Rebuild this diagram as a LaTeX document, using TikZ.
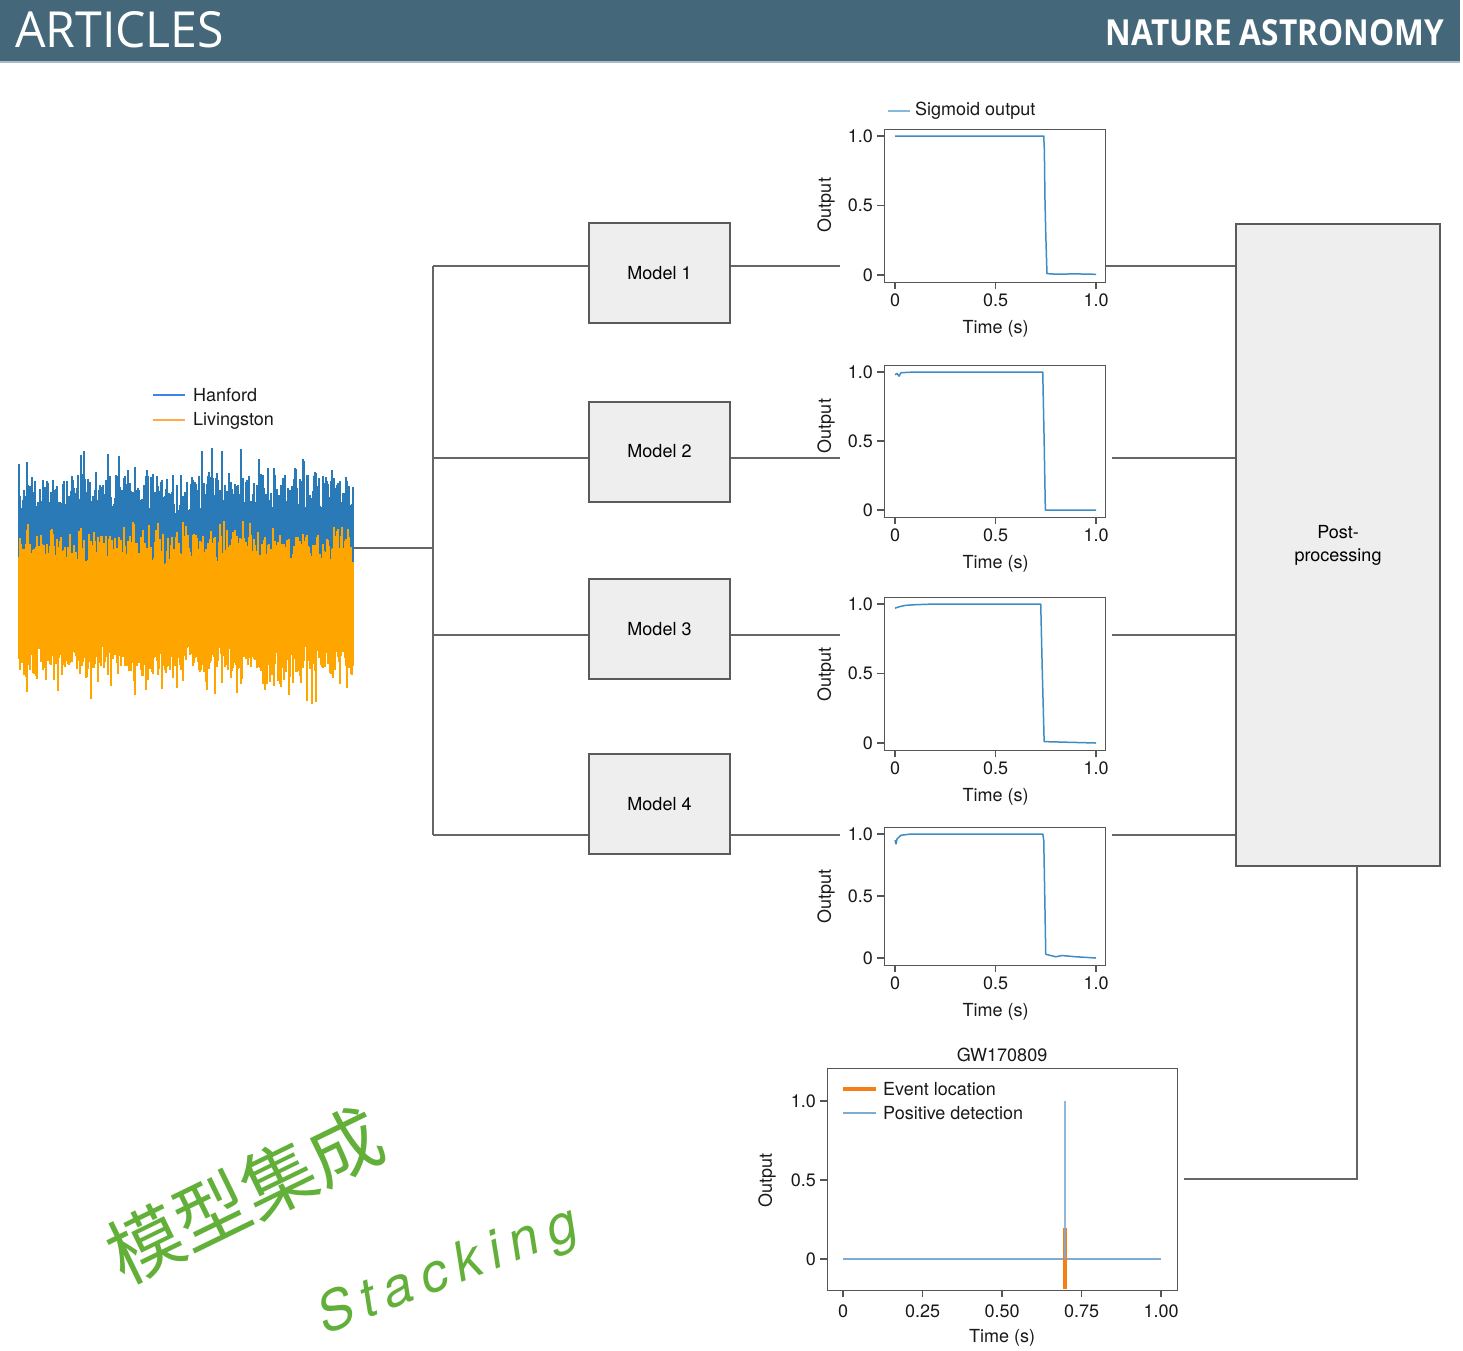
\documentclass[tikz,border=0pt]{standalone}
\usepackage{fontspec}
\setmainfont{TeX Gyre Heros}
\newfontfamily\hdrfont{Open Sans}
\newfontfamily\cjk{Noto Sans CJK SC}
\newfontfamily\handfont[LetterSpace=18]{TeX Gyre Heros}
\definecolor{hdr}{HTML}{44687A}
\definecolor{hdrline}{HTML}{A9BCC6}
\definecolor{linegray}{HTML}{666666}
\definecolor{boxfill}{HTML}{EEEEEE}
\definecolor{boxdraw}{HTML}{5A5A5A}
\definecolor{frm}{HTML}{555555}
\definecolor{sigcol}{HTML}{3D8CC4}
\definecolor{legblue}{HTML}{86B7DD}
\definecolor{hanblue}{HTML}{3E84E8}
\definecolor{livorange}{HTML}{FFAA44}
\definecolor{sigblue}{HTML}{2A7AB8}
\definecolor{sigorange}{HTML}{FFA500}
\definecolor{evorange}{HTML}{F57F17}
\definecolor{posblue}{HTML}{7EABD3}
\definecolor{handgreen}{HTML}{62B03A}
\newcommand\plotfont{\fontsize{18}{22}\selectfont}
\tikzset{
  conn/.style={draw=linegray, line width=2pt},
  modelbox/.style={draw=boxdraw, fill=boxfill, line width=2pt, minimum width=141pt, minimum height=100pt, inner sep=0pt, font=\plotfont},
  pframe/.style={draw=frm, line width=1.2pt, inner sep=0pt, fill=white},
  ptick/.style={draw=frm, line width=1.2pt},
  plab/.style={font=\plotfont, inner sep=1pt, text=black!90},
  sigline/.style={draw=sigcol, line width=1.5pt, line join=round},
  hand/.style={text=handgreen, inner sep=0pt},
}
\newcommand\sigplot[5]{%
  \pgfmathsetmacro\yone{#2+7}%
  \pgfmathsetmacro\yzero{#3-7}%
  \pgfmathsetmacro\ymid{(#2+#3)/2}%
  \pgfmathsetmacro\hh{#3-#2-14}%
  \pgfmathsetmacro\fh{#3-#2}%
  \pgfmathsetmacro\xl{#3+18}%
  \pgfmathsetmacro\tl{#3+47}%
  \node[pframe, anchor=north west, minimum width=221pt, minimum height=\fh pt] (#1) at (884,#2) {};
  \draw[ptick] (877,\yone) -- (884,\yone) (877,\ymid) -- (884,\ymid) (877,\yzero) -- (884,\yzero);
  \node[plab, anchor=east] (#1ya) at (874,\yone) {1.0};
  \node[plab, anchor=east] (#1yb) at (874,\ymid) {0.5};
  \node[plab, anchor=east] (#1yc) at (874,\yzero) {0};
  \draw[ptick] (895,#3) -- ++(0,7) (995.5,#3) -- ++(0,7) (1096,#3) -- ++(0,7);
  \node[plab] (#1xa) at (895,\xl) {0};
  \node[plab] (#1xb) at (995.5,\xl) {0.5};
  \node[plab] (#1xc) at (1096,\xl) {1.0};
  \node[plab] (#1xt) at (995.5,\tl) {Time (s)};
  \node[plab, rotate=90] (#1yt) at (826,#5) {Output};
  \begin{scope}[shift={(895,\yzero)}, x=201pt, y=\hh pt]
    \draw[sigline] #4;
  \end{scope}
}
\begin{document}
\begin{tikzpicture}[x=1pt, y=-1pt]
\useasboundingbox (0,0) rectangle (1463,1350);
\fill[white] (0,0) rectangle (1463,1350);
% header
\fill[hdr] (0,0) rectangle (1460,62);
\draw[hdrline, line width=1.5pt] (0,62) -- (1460,62);
\node[anchor=south west, inner sep=0pt, text=white] (title) at (15,48) {\resizebox{209pt}{36pt}{\hdrfont ARTICLES}};
\node[anchor=south east, inner sep=0pt, text=white] (journal) at (1444,46) {\resizebox{338pt}{26pt}{\hdrfont\bfseries NATURE ASTRONOMY}};

% signal
\pgfmathsetseed{11}
\foreach \i in {19,...,353} {
  \pgfmathsetmacro\bt{515-40*rnd-32*rnd^5}
  \draw[sigblue, line width=1.3pt] (\i,\bt) -- (\i,575);
}
\foreach \i in {19,...,353} {
  \pgfmathsetmacro\ot{566-32*rnd-15*rnd^4}
  \pgfmathsetmacro\ob{645+25*rnd+35*rnd^5}
  \draw[sigorange, line width=1.3pt] (\i,\ot) -- (\i,\ob);
}
\node[minimum width=334pt, minimum height=250pt, inner sep=0pt] (sig) at (186,548) {};
% legend
\draw[hanblue, line width=2pt] (153,395) -- (185,395);
\node[plab, anchor=west] (han) at (192,395) {Hanford};
\draw[livorange, line width=2pt] (153,420) -- (185,420);
\node[plab, anchor=west] (liv) at (192,421) {Livingston};

% models
\node[modelbox] (m1) at (659.5,273) {Model 1};
\node[modelbox] (m2) at (659.5,451.5) {Model 2};
\node[modelbox] (m3) at (659.5,629) {Model 3};
\node[modelbox] (m4) at (659.5,804) {Model 4};

% trunk and branches
\coordinate (b1) at (433,266);
\coordinate (b2) at (433,458);
\coordinate (b3) at (433,635);
\coordinate (b4) at (433,835);
\coordinate (bin) at (433,548);
\draw[conn] (b1) -- (b4);
\draw[conn] (sig.east) -- (bin);
\draw[conn] (b1) -- (m1.west |- b1);
\draw[conn] (b2) -- (m2.west |- b2);
\draw[conn] (b3) -- (m3.west |- b3);
\draw[conn] (b4) -- (m4.west |- b4);
\coordinate (o1) at (840,266);
\coordinate (o2) at (840,458);
\coordinate (o3) at (840,635);
\coordinate (o4) at (840,835);
\draw[conn] (m1.east |- o1) -- (o1);
\draw[conn] (m2.east |- o2) -- (o2);
\draw[conn] (m3.east |- o3) -- (o3);
\draw[conn] (m4.east |- o4) -- (o4);

% plots
\draw[legblue, line width=1.3pt] (888,111) -- (910,111);
\node[plab, anchor=west] (sigleg) at (914,111) {Sigmoid output};
\sigplot{p1}{129}{282}{(0,1) -- (0.74,1) -- (0.743,0.9) -- (0.746,0.55) -- (0.75,0.3) -- (0.756,0.01) -- (0.8,0.006) -- (0.9,0.008) -- (1,0.005)}{205}
\sigplot{p2}{365}{517}{(0,0.98) -- (0.01,0.99) -- (0.02,0.97) -- (0.03,0.995) -- (0.1,1) -- (0.735,1) -- (0.742,0.5) -- (0.748,0) -- (1,0)}{426}
\sigplot{p3}{597}{750}{(0,0.97) -- (0.02,0.98) -- (0.05,0.99) -- (0.1,0.995) -- (0.2,1) -- (0.725,1) -- (0.733,0.5) -- (0.742,0.01) -- (1,0)}{674}
\sigplot{p4}{827}{965}{(0,0.95) -- (0.005,0.92) -- (0.01,0.96) -- (0.03,0.99) -- (0.08,1) -- (0.735,1) -- (0.74,0.95) -- (0.745,0.5) -- (0.75,0.03) -- (0.8,0.01) -- (0.83,0.02) -- (0.9,0.01) -- (1,0)}{896}

% post-processing
\node[modelbox, minimum width=204pt, minimum height=642pt, align=center, font=\fontsize{18}{23}\selectfont] (post) at (1338,545) {Post-\\processing};
\coordinate (r2) at (1112,458);
\coordinate (r3) at (1112,635);
\coordinate (r4) at (1112,835);
\draw[conn] (p1.east |- o1) -- (post.west |- o1);
\draw[conn] (r2) -- (post.west |- r2);
\draw[conn] (r3) -- (post.west |- r3);
\draw[conn] (r4) -- (post.west |- r4);

% final plot
\node[pframe, anchor=north west, minimum width=350pt, minimum height=222pt] (gw) at (827,1068) {};
\node[plab] (gwt) at (1002,1055) {GW170809};
\draw[ptick] (820,1101) -- (827,1101) (820,1180) -- (827,1180) (820,1259) -- (827,1259);
\node[plab, anchor=east] (gya) at (817,1101) {1.0};
\node[plab, anchor=east] (gyb) at (817,1180) {0.5};
\node[plab, anchor=east] (gyc) at (817,1259) {0};
\node[plab, rotate=90] (gyt) at (767,1180) {Output};
\draw[ptick] (843,1290) -- ++(0,7) (922.5,1290) -- ++(0,7) (1002,1290) -- ++(0,7) (1081.5,1290) -- ++(0,7) (1161,1290) -- ++(0,7);
\node[plab] (gxa) at (843,1311) {0};
\node[plab] (gxb) at (922.5,1311) {0.25};
\node[plab] (gxc) at (1002,1311) {0.50};
\node[plab] (gxd) at (1081.5,1311) {0.75};
\node[plab] (gxe) at (1161,1311) {1.00};
\node[plab] (gxt) at (1002,1338) {Time (s)};
\draw[evorange, line width=4pt] (843,1089) -- (876,1089);
\node[plab, anchor=west] (evleg) at (882,1089) {Event location};
\draw[posblue, line width=2pt] (843,1113) -- (876,1113);
\node[plab, anchor=west] (posleg) at (882,1113) {Positive detection};
\draw[posblue, line width=2pt] (843,1259) -- (1161,1259);
\draw[evorange, line width=4pt] (1065,1228) -- (1065,1289);
\draw[posblue, line width=2pt, opacity=0.85] (1065,1101) -- (1065,1259);

\coordinate (pd) at (1357,866);
\coordinate (gin) at (1184,1179);
\draw[conn] (post.south -| pd) |- (gin);

% handwriting
\node[hand, rotate=26, font=\fontsize{74}{78}\selectfont\cjk] (hw1) at (245,1195) {模型集成};
\node[hand, rotate=21, font=\fontsize{54}{60}\selectfont\handfont\itshape] (hw2) at (448,1272) {Stacking};
\end{tikzpicture}
\end{document}
